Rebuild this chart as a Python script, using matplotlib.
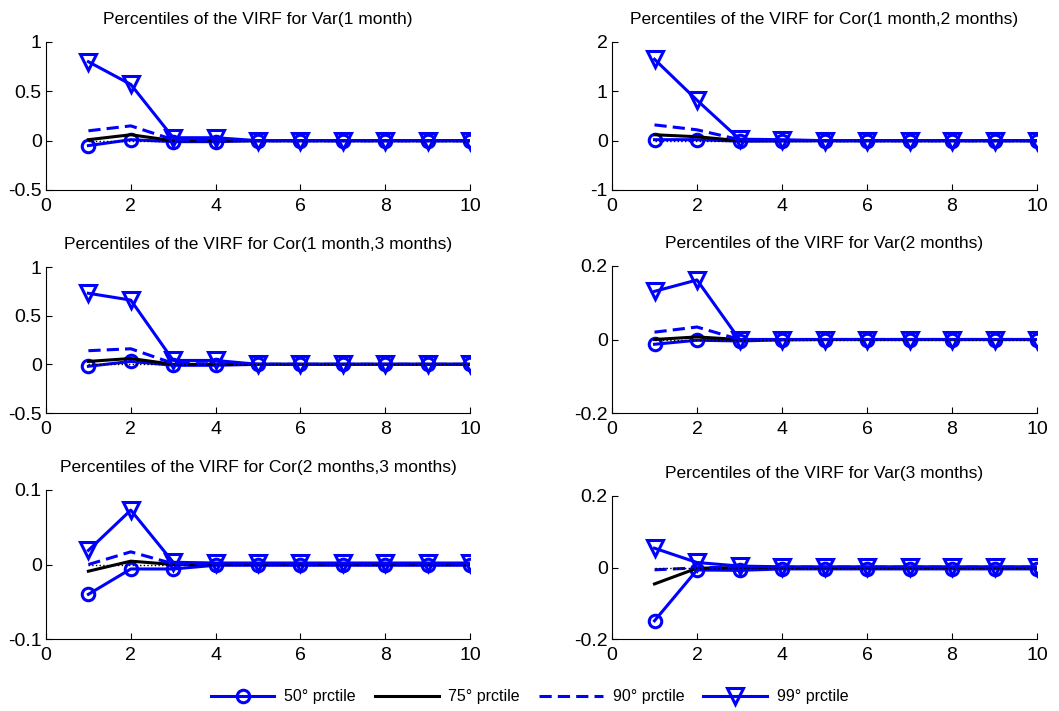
import matplotlib
matplotlib.use("Agg")
import matplotlib.pyplot as plt

plt.rcParams['font.family'] = ['Liberation Sans', 'DejaVu Sans']

horizon = [1, 2, 3, 4, 5, 6, 7, 8, 9, 10]

titles = [
    "Percentiles of the VIRF for Var(1 month)",
    "Percentiles of the VIRF for Cor(1 month,2 months)",
    "Percentiles of the VIRF for Cor(1 month,3 months)",
    "Percentiles of the VIRF for Var(2 months)",
    "Percentiles of the VIRF for Cor(2 months,3 months)",
    "Percentiles of the VIRF for Var(3 months)",
]

p50 = [
    [-0.05, 0.01, -0.01, -0.01, 0, 0, 0, 0, 0, 0],
    [0.02, 0.02, -0.01, -0.005, 0, 0, 0, 0, 0, 0],
    [-0.02, 0.03, -0.01, -0.01, 0, 0, 0, 0, 0, 0],
    [-0.013, -0.002, -0.004, -0.001, 0, 0, 0, 0, 0, 0],
    [-0.040, -0.006, -0.006, -0.001, -0.001, -0.001, -0.001, -0.001, -0.001, -0.001],
    [-0.149, -0.007, -0.008, -0.004, -0.004, -0.004, -0.004, -0.004, -0.004, -0.004],
]
p75 = [
    [0.01, 0.06, 0, 0, 0, 0, 0, 0, 0, 0],
    [0.12, 0.08, 0, 0, 0, 0, 0, 0, 0, 0],
    [0.03, 0.06, 0, 0, 0, 0, 0, 0, 0, 0],
    [0.0, 0.007, 0, 0, 0, 0, 0, 0, 0, 0],
    [-0.009, 0.0045, 0, 0, 0, 0, 0, 0, 0, 0],
    [-0.046, -0.002, 0, 0, 0, 0, 0, 0, 0, 0],
]
p90 = [
    [0.10, 0.15, 0.01, 0.005, 0, 0, 0, 0, 0, 0],
    [0.32, 0.22, 0.02, 0.005, 0, 0, 0, 0, 0, 0],
    [0.14, 0.16, 0.01, 0.005, 0, 0, 0, 0, 0, 0],
    [0.02, 0.034, 0.0, 0, 0, 0, 0, 0, 0, 0],
    [0.0, 0.017, 0.001, 0.001, 0.001, 0.001, 0.001, 0.001, 0.001, 0.001],
    [-0.0065, -0.001, 0.001, 0.001, 0.001, 0.001, 0.001, 0.001, 0.001, 0.001],
]
p99 = [
    [0.80, 0.57, 0.03, 0.03, 0, 0, 0, 0, 0, 0],
    [1.65, 0.82, 0.03, 0.02, 0, 0, 0, 0, 0, 0],
    [0.73, 0.66, 0.04, 0.04, 0, 0, 0, 0, 0, 0],
    [0.131, 0.162, 0.0, 0.0, 0, 0, 0, 0, 0, 0],
    [0.019, 0.073, 0.003, 0.002, 0.002, 0.002, 0.002, 0.002, 0.002, 0.002],
    [0.054, 0.014, 0.004, 0.002, 0.002, 0.002, 0.002, 0.002, 0.002, 0.002],
]

ylims = [(-0.5, 1), (-1, 2), (-0.5, 1), (-0.2, 0.2), (-0.1, 0.1), (-0.2, 0.2)]
yticks = [[-0.5, 0, 0.5, 1], [-1, 0, 1, 2], [-0.5, 0, 0.5, 1],
          [-0.2, 0, 0.2], [-0.1, 0, 0.1], [-0.2, 0, 0.2]]
ytick_labels = [["-0.5", "0", "0.5", "1"], ["-1", "0", "1", "2"], ["-0.5", "0", "0.5", "1"],
                ["-0.2", "0", "0.2"], ["-0.1", "0", "0.1"], ["-0.2", "0", "0.2"]]
xticks = [0, 2, 4, 6, 8, 10]
legend_labels = ["50° prctile", "75° prctile", "90° prctile", "99° prctile"]

W, H = 1059, 711
# axes boxes in pixels: left, top, right, bottom
boxes = [
    (46, 42, 470, 190),
    (612, 42, 1037, 190),
    (46, 267, 470, 413),
    (612, 266, 1037, 413),
    (46, 490, 470, 639),
    (612, 496, 1037, 639),
]

fig = plt.figure(figsize=(W / 100, H / 100), dpi=100)
blue = '#0000ff'
handles = None
for i in range(6):
    l, t, r, b = boxes[i]
    ax = fig.add_axes([l / W, 1 - b / H, (r - l) / W, (b - t) / H])
    h1, = ax.plot(horizon, p50[i], color=blue, lw=2.2, marker='o', ms=9,
                  mfc='none', mec=blue, mew=2.2)
    h2, = ax.plot(horizon, p75[i], color='black', lw=2.2)
    h3, = ax.plot(horizon, p90[i], color=blue, lw=2.2, ls='--', dashes=(4, 2))
    h4, = ax.plot(horizon, p99[i], color=blue, lw=2.2, marker='v', ms=11,
                  mfc='none', mec=blue, mew=2.2)
    ax.plot([horizon[0], horizon[-1]], [0, 0], color='black', lw=1, ls=':', zorder=5)
    handles = [h1, h2, h3, h4]
    ax.set_xlim(0, 10)
    ax.set_ylim(*ylims[i])
    ax.set_xticks(xticks)
    ax.set_xticklabels([str(x) for x in xticks])
    ax.set_yticks(yticks[i])
    ax.set_yticklabels(ytick_labels[i])
    ax.spines['top'].set_visible(False)
    ax.spines['right'].set_visible(False)
    ax.tick_params(direction='in', length=4, labelsize=14, pad=3)
    ax.tick_params(axis='x', pad=6)
    ax.set_title(titles[i], fontsize=12.5, pad=13)

fig.legend(handles, legend_labels, loc='center', bbox_to_anchor=(0.5, 1 - 697 / H),
           ncol=4, frameon=False, fontsize=11.5, handlelength=4, columnspacing=1.2,
           handletextpad=0.6)

fig.savefig("out.png", dpi=100)
